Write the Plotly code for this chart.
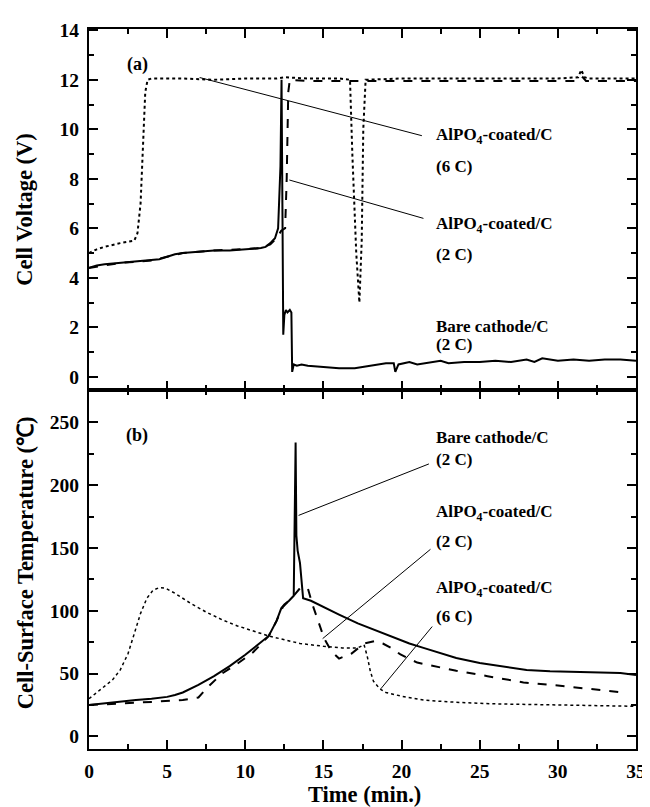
import plotly.graph_objects as go

# ---------------- data: panel (a) cell voltage ----------------
t_v_bare = [0, 0.5, 1, 2, 3, 4, 4.5, 5, 5.5, 6, 7, 8, 9, 10, 10.5, 11, 11.3, 11.6, 11.9, 12.1,
            12.25, 12.32, 12.38, 12.43, 12.5, 12.6, 12.7, 12.85, 12.95, 13.0, 13.1, 13.3, 13.6, 14, 15,
            16, 17, 18, 18.5, 19, 19.5, 19.6, 19.8, 20.5, 21, 22, 22.5, 23, 24, 25, 26, 27, 28, 28.5,
            29, 30, 31, 32, 33, 34, 35]
v_bare = [4.4, 4.5, 4.55, 4.6, 4.65, 4.7, 4.75, 4.85, 4.95, 5.0, 5.05, 5.1, 5.1, 5.15, 5.2, 5.2,
          5.25, 5.4, 5.6, 6.0, 8.5, 12.0, 6.5, 1.7, 2.5, 2.7, 2.6, 2.7, 2.6, 0.2, 0.5, 0.45, 0.5, 0.45,
          0.4, 0.35, 0.35, 0.45, 0.5, 0.55, 0.55, 0.2, 0.5, 0.6, 0.5, 0.6, 0.65, 0.55, 0.6, 0.6, 0.65,
          0.6, 0.7, 0.6, 0.75, 0.65, 0.7, 0.65, 0.7, 0.7, 0.65]

t_v_2c = [0, 2, 4, 6, 8, 10, 11, 11.6, 12.0, 12.3, 12.55, 12.65, 12.75, 12.85, 14, 17, 20, 25, 30,
          31.4, 31.6, 31.8, 35]
v_2c = [4.4, 4.6, 4.7, 5.0, 5.1, 5.15, 5.2, 5.35, 5.6, 5.9, 6.0, 8.0, 11.5, 12.0, 11.95, 11.95,
        11.95, 11.95, 11.95, 11.95, 12.1, 11.95, 11.95]

t_v_6c = [0, 0.5, 1, 2, 2.9, 3.1, 3.3, 3.45, 3.6, 3.75, 4, 6, 8, 10, 12, 12.5, 14, 16, 16.7, 16.85,
          17.1, 17.3, 17.45, 17.55, 17.7, 20, 25, 30, 31.3, 31.5, 31.7, 32, 35]
v_6c = [5.0, 5.15, 5.25, 5.4, 5.5, 5.8, 7.0, 9.5, 11.5, 12.0, 12.05, 12.05, 12.0, 12.05, 12.05, 12.1,
        12.05, 12.05, 12.0, 9.0, 5.0, 3.0, 5.5, 10.0, 12.0, 12.05, 12.05, 12.05, 12.1, 12.4, 12.1,
        12.05, 12.05]

# ---------------- data: panel (b) cell-surface temperature ----------------
t_T_bare = [0, 1, 2, 3, 4, 5, 5.5, 6, 7, 8, 9, 10, 10.8, 11.5, 12.0, 12.3, 12.5, 12.8, 13.1, 13.18,
            13.22, 13.27, 13.35, 13.5, 13.62, 13.7, 14.2, 15, 16, 17.2, 18, 19.3, 20.5, 21.4, 22.5,
            23.5, 25, 26.5, 28, 29.5, 31, 33, 34, 35]
T_bare = [25, 26.5, 28, 29, 30, 31.5, 33, 35, 41, 48, 56, 65, 73, 80, 92, 102, 105, 108, 112, 200,
          234, 160, 148, 138, 118, 110, 108, 103, 97, 90, 86, 80, 74, 70.5, 66, 62.5, 58.5, 55.5, 53,
          52, 51.5, 51, 50.5, 49]

t_T_2c = [0, 2, 4, 6, 7, 7.5, 8.5, 9.5, 10.5, 11.5, 12, 12.4, 12.8, 13.1, 13.5, 14.0, 14.3, 14.7,
          15.05, 15.5, 16.0, 16.8, 17.6, 18.3, 18.8, 19.4, 19.9, 21, 23.5, 25.5, 27.8, 30, 32.1, 34]
T_2c = [25, 26, 27.5, 29, 31, 38, 50, 58, 67, 80, 92, 103, 108, 112, 118, 118, 105, 90, 78, 68, 62,
        66, 74, 76, 74, 70, 65.5, 58.8, 52.3, 48, 43, 40.5, 38, 35.3]

t_T_6c = [0, 0.8, 1.5, 2.0, 2.5, 2.9, 3.3, 3.7, 4.1, 4.5, 4.9, 5.5, 6.5, 7.5, 8.5, 9.5, 10.5, 11.5,
          12.5, 13.5, 15, 16.2, 17.2, 17.6, 17.8, 18.0, 18.2, 18.6, 19, 20, 21.4, 23, 25.7, 30, 35]
T_6c = [30, 38, 45, 53, 66, 82, 98, 110, 116.5, 118.5, 118, 114, 106, 99, 93, 88, 84, 80, 77, 74,
        71.8, 70.5, 70.5, 73, 64, 52, 44, 38, 35, 32, 29, 27.5, 26, 25, 24]

# ---------------- labels ----------------
x_ticks = [0, 5, 10, 15, 20, 25, 30, 35]
v_ticks = [0, 2, 4, 6, 8, 10, 12, 14]
T_ticks = [0, 50, 100, 150, 200, 250]

label_coated = "<b>AlPO<sub>4</sub>-coated/C</b>"
label_bare = "<b>Bare cathode/C</b>"

callouts_a = [(label_coated, 22.07, 9.74), ("<b>(6 C)</b>", 22.07, 8.5),
              (label_coated, 22.07, 6.15), ("<b>(2 C)</b>", 22.07, 4.95),
              (label_bare, 22.07, 2.05), ("<b>(2 C)</b>", 22.07, 1.3)]
leaders_a = [((7.08, 12.09), (21.3, 9.74)), ((12.82, 7.95), (21.4, 6.4))]

callouts_b = [(label_bare, 22.07, 237.7), ("<b>(2 C)</b>", 22.07, 220.7),
              (label_coated, 22.07, 177.7), ("<b>(2 C)</b>", 22.07, 155.5),
              (label_coated, 22.07, 117.5), ("<b>(6 C)</b>", 22.07, 95.4)]
leaders_b = [((13.41, 176), (21.75, 217)), ((14.95, 77.9), (21.85, 149)),
             ((18.67, 37.9), (21.96, 87.5))]

FONT = "Liberation Serif, Times New Roman, serif"
BLACK = "black"

fig = go.Figure()

def add(t, v, dash, width, xa, ya):
    fig.add_trace(go.Scatter(x=t, y=v, mode="lines", xaxis=xa, yaxis=ya,
                             line=dict(color=BLACK, dash=dash, width=width),
                             showlegend=False, hoverinfo="skip"))

add(t_v_6c, v_6c, "dot", 2, "x2", "y2")
add(t_v_2c, v_2c, "dash", 2, "x2", "y2")
add(t_v_bare, v_bare, "solid", 2, "x2", "y2")
add(t_T_6c, T_6c, "dot", 1.5, "x", "y")
add(t_T_2c, T_2c, "dash", 2, "x", "y")
add(t_T_bare, T_bare, "solid", 2, "x", "y")

def bold(vals):
    return ["<b>%d</b>" % v for v in vals]

tickfont = dict(family=FONT, size=19.5, color=BLACK)
common = dict(showline=True, linecolor=BLACK, linewidth=2, mirror="ticks", ticks="inside",
              ticklen=9, tickwidth=2, tickcolor=BLACK, showgrid=False, zeroline=False,
              tickfont=tickfont, ticklabelstandoff=4)

def minor(d):
    return dict(dtick=d, tick0=0, ticks="inside", ticklen=5, tickwidth=2, tickcolor=BLACK)

# page offset of the rendered figure (browser body margin) is compensated in the margins
fig.update_layout(
    width=650, height=807, plot_bgcolor="white", paper_bgcolor="white",
    margin=dict(l=81, r=21, t=12, b=66),
    xaxis=dict(range=[0, 35], tickvals=x_ticks, ticktext=bold(x_ticks), anchor="y",
               minor=minor(2.5), **common),
    yaxis=dict(range=[-10, 275.5], tickvals=T_ticks, ticktext=bold(T_ticks),
               domain=[0, 0.498], anchor="x", minor=minor(25), **common),
    xaxis2=dict(range=[0, 35], tickvals=x_ticks, anchor="y2", matches="x",
                showticklabels=False, minor=minor(2.5), **common),
    yaxis2=dict(range=[-0.55, 14.05], tickvals=v_ticks, ticktext=bold(v_ticks),
                domain=[0.498, 1], anchor="x2", minor=minor(1), **common),
)

afont = dict(family=FONT, size=17, color=BLACK)
for txt, x, y in callouts_a:
    fig.add_annotation(text=txt, x=x, y=y, xref="x2", yref="y2", xanchor="left",
                       yanchor="middle", showarrow=False, font=afont)
for txt, x, y in callouts_b:
    fig.add_annotation(text=txt, x=x, y=y, xref="x", yref="y", xanchor="left",
                       yanchor="middle", showarrow=False, font=afont)
for (x0, y0), (x1, y1) in leaders_a:
    fig.add_shape(type="line", x0=x0, y0=y0, x1=x1, y1=y1, xref="x2", yref="y2",
                  line=dict(color=BLACK, width=1))
for (x0, y0), (x1, y1) in leaders_b:
    fig.add_shape(type="line", x0=x0, y0=y0, x1=x1, y1=y1, xref="x", yref="y",
                  line=dict(color=BLACK, width=1))

pfont = dict(family=FONT, size=18, color=BLACK)
fig.add_annotation(text="<b>(a)</b>", x=3.1, y=12.6, xref="x2", yref="y2", showarrow=False,
                   xanchor="center", yanchor="middle", font=pfont)
fig.add_annotation(text="<b>(b)</b>", x=3.1, y=240, xref="x", yref="y", showarrow=False,
                   xanchor="center", yanchor="middle", font=pfont)

tfont = dict(family=FONT, size=22.5, color=BLACK)
fig.add_annotation(text="<b>Cell Voltage (V)</b>", x=-0.117, y=0.749, xref="paper",
                   yref="paper", textangle=-90, showarrow=False, xanchor="center",
                   yanchor="middle", font=tfont)
fig.add_annotation(text="<b>Cell-Surface Temperature (℃)</b>", x=-0.117, y=0.258,
                   xref="paper", yref="paper", textangle=-90, showarrow=False,
                   xanchor="center", yanchor="middle", font=tfont)
fig.add_annotation(text="<b>Time (min.)</b>", x=0.504, y=-0.063, xref="paper", yref="paper",
                   showarrow=False, xanchor="center", yanchor="middle", font=tfont)

fig.write_html("out.html")
